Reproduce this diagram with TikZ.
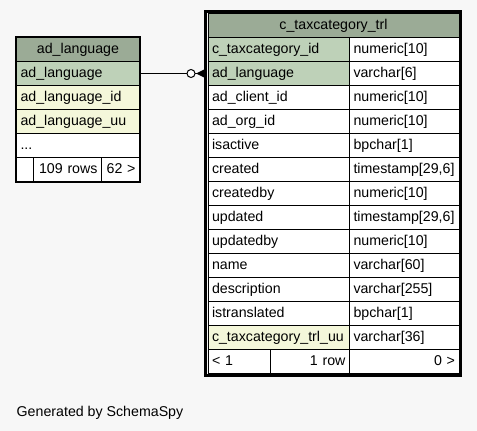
\documentclass[tikz,border=0pt]{standalone}
\usepackage{fontspec}
\setmainfont{Liberation Sans}
\definecolor{pagegray}{HTML}{F7F7F7}
\definecolor{headgreen}{HTML}{9BAB96}
\definecolor{keygreen}{HTML}{BED1B8}
\definecolor{idxyellow}{HTML}{F4F7DA}
\tikzset{
  cell/.style={draw, line width=1pt, anchor=north west, minimum height=24pt,
    inner xsep=4pt, inner ysep=0pt, text height=11.6pt, text depth=3pt,
    text width=#1, align=left, fill=white},
  head/.style={cell=#1, fill=headgreen, align=center},
  keycell/.style={cell=#1, fill=keygreen},
  idxcell/.style={cell=#1, fill=idxyellow},
  rcell/.style={cell=#1, align=right},
}
\begin{document}
\hyphenpenalty=10000 \exhyphenpenalty=10000
\begin{tikzpicture}[x=1pt, y=-1pt, font=\fontsize{14.2}{17}\selectfont]
    \fill[pagegray] (0,0) rectangle (477,431);
    \useasboundingbox (0,0) rectangle (477,431);

    \node[head=115pt] (lang-head) at (16,37) {ad\_language};
    \node[keycell=115pt] (lang-c1) at (16,61) {ad\_language};
    \node[idxcell=115pt] (lang-c2) at (16,85) {ad\_language\_id};
    \node[idxcell=115pt] (lang-c3) at (16,109) {ad\_language\_uu};
    \node[cell=115pt] (lang-c4) at (16,133) {...};
    \node[cell=9pt] (lang-f1) at (16,157) {};
    \node[rcell=60pt] (lang-f2) at (33,157) {109 rows};
    \node[rcell=30pt] (lang-f3) at (101,157) {62 >};
    \draw[line width=1pt] (15,36) rectangle (140,182);

    \node[head=243pt] (trl-head) at (207.5,13) {c\_taxcategory\_trl};
    \node[keycell=133.5pt] (trl-n1) at (207.5,37) {c\_taxcategory\_id};
    \node[cell=101.5pt] (trl-t1) at (349,37) {numeric[10]};
    \node[keycell=133.5pt] (trl-n2) at (207.5,61) {ad\_language};
    \node[cell=101.5pt] (trl-t2) at (349,61) {varchar[6]};
    \node[cell=133.5pt] (trl-n3) at (207.5,85) {ad\_client\_id};
    \node[cell=101.5pt] (trl-t3) at (349,85) {numeric[10]};
    \node[cell=133.5pt] (trl-n4) at (207.5,109) {ad\_org\_id};
    \node[cell=101.5pt] (trl-t4) at (349,109) {numeric[10]};
    \node[cell=133.5pt] (trl-n5) at (207.5,133) {isactive};
    \node[cell=101.5pt] (trl-t5) at (349,133) {bpchar[1]};
    \node[cell=133.5pt] (trl-n6) at (207.5,157) {created};
    \node[cell=101.5pt] (trl-t6) at (349,157) {timestamp[29,6]};
    \node[cell=133.5pt] (trl-n7) at (207.5,181) {createdby};
    \node[cell=101.5pt] (trl-t7) at (349,181) {numeric[10]};
    \node[cell=133.5pt] (trl-n8) at (207.5,205) {updated};
    \node[cell=101.5pt] (trl-t8) at (349,205) {timestamp[29,6]};
    \node[cell=133.5pt] (trl-n9) at (207.5,229) {updatedby};
    \node[cell=101.5pt] (trl-t9) at (349,229) {numeric[10]};
    \node[cell=133.5pt] (trl-n10) at (207.5,253) {name};
    \node[cell=101.5pt] (trl-t10) at (349,253) {varchar[60]};
    \node[cell=133.5pt] (trl-n11) at (207.5,277) {description};
    \node[cell=101.5pt] (trl-t11) at (349,277) {varchar[255]};
    \node[cell=133.5pt] (trl-n12) at (207.5,301) {istranslated};
    \node[cell=101.5pt] (trl-t12) at (349,301) {bpchar[1]};
    \node[idxcell=133.5pt] (trl-n13) at (207.5,325) {c\_taxcategory\_trl\_uu};
    \node[cell=101.5pt] (trl-t13) at (349,325) {varchar[36]};
    \node[cell=54.5pt] (trl-f1) at (207.5,349) {< 1};
    \node[rcell=71pt] (trl-f2) at (270,349) {1 row};
    \node[rcell=101.5pt] (trl-f3) at (349,349) {0 >};
    \draw[line width=3pt] (205.5,11.5) rectangle (460.5,375.5);

    \coordinate (fk) at ([xshift=-2.5pt]trl-n2.west);
    \draw[line width=1pt] (lang-c1.east) -- (fk);
    \fill ([xshift=-9pt]fk) -- ([yshift=4.5pt]fk) -- ([yshift=-4.5pt]fk) -- cycle;
    \draw[line width=1pt, fill=white] ([xshift=-14pt]fk) circle (4pt);

    \node[anchor=base west, inner sep=0pt] (credit) at (16.5,416.5) {Generated by SchemaSpy};
\end{tikzpicture}
\end{document}
